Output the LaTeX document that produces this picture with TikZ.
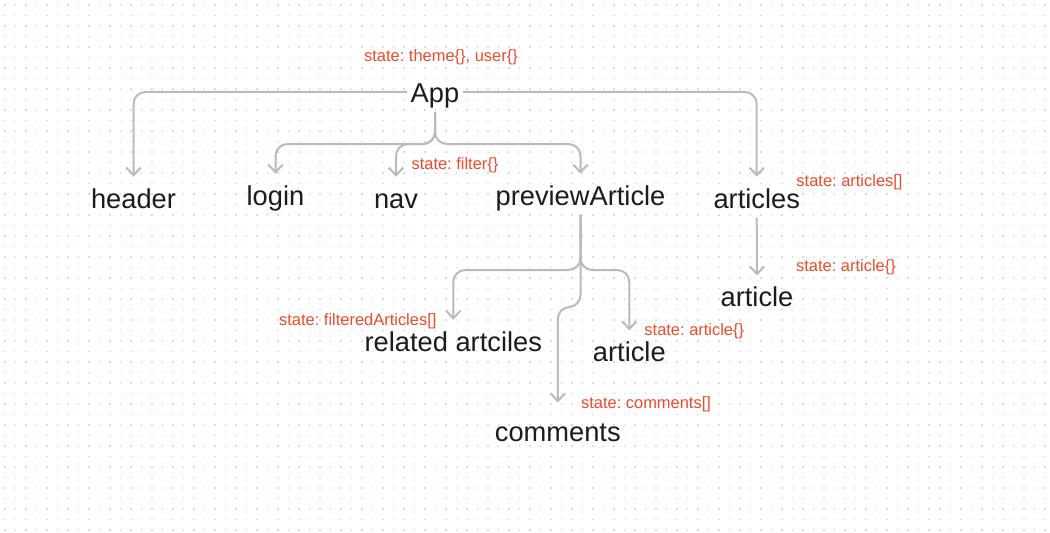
\documentclass[tikz,border=0pt]{standalone}
\usepackage{fontspec}
\setmainfont{Liberation Sans}
\usetikzlibrary{arrows.meta}
\frenchspacing

\definecolor{linkgray}{RGB}{186,186,186}
\definecolor{statered}{RGB}{234,76,44}
\definecolor{inkblack}{RGB}{28,28,28}
\definecolor{dotgray}{RGB}{218,218,218}

\tikzset{
  comp/.style={text=inkblack,anchor=base,inner xsep=1mm,inner ysep=0pt,
    text height=0.775cm,text depth=0.25cm,font=\fontsize{19.4pt}{23pt}\selectfont},
  statelbl/.style={text=statered,anchor=base,inner sep=0pt,
    font=\fontsize{11.7pt}{14pt}\selectfont},
  link/.style={draw=linkgray,line width=0.5mm,line cap=round,rounded corners=3mm,
    -{Straight Barb[length=1.9mm,width=3.6mm,line width=0.5mm]}},
  dotrow/.style={draw=dotgray,line width=0.375mm,dash pattern=on 0.375mm off 2.25mm}
}

\begin{document}
\begin{tikzpicture}[x=0.025cm,y=-0.025cm]

% background and dot grid
\fill[white] (0,0) rectangle (1050,532);
\useasboundingbox (0,0) rectangle (1050,532);
\foreach \y in {5,15.5,...,530}
  \draw[dotrow] (4.25,\y) -- (1050,\y);

% components
\path (435,102.5) node[comp] (app) {App};
\path (133.5,208) node[comp] (header) {header};
\path (275.5,205) node[comp] (login) {login};
\path (396,208) node[comp] (nav) {nav};
\path (580.5,205) node[comp] (preview) {previewArticle};
\path (756.7,208) node[comp] (articles) {articles};
\path (757,306.7) node[comp] (artitem) {article};
\path (453.3,351) node[comp] (related) {related artciles};
\path (629.3,361.7) node[comp] (article) {article};
\path (557.8,441.7) node[comp] (comments) {comments};

% state labels
\path (441,61.7) node[statelbl] (appstate) {state: theme\{\}, user\{\}};
\path (455,169.5) node[statelbl] (navstate) {state: filter\{\}};
\path (849.5,186.7) node[statelbl] (articlesstate) {state: articles[]};
\path (846,271.7) node[statelbl] (artitemstate) {state: article\{\}};
\path (357.8,325) node[statelbl] (relatedstate) {state: filteredArticles[]};
\path (694.3,335) node[statelbl] (articlestate) {state: article\{\}};
\path (646,408) node[statelbl] (commentsstate) {state: comments[]};

% branch points
\coordinate (appfork) at (435,144);
\coordinate (prevfork) at (580.5,270);
\coordinate (prevjog) at (580.5,307);

% connectors
\draw[link] (app.west) -| (header.north);
\draw[link] (app.east) -| (articles.north);
\draw[link] (app.south) -- (appfork) -| (login.north);
\draw[link] (app.south) -- (appfork) -| (nav.north);
\draw[link] (app.south) -- (appfork) -| (preview.north);
\draw[link] (articles.south) -- (artitem.north);
\draw[link] (preview.south) -- (prevfork) -| (related.north);
\draw[link] (preview.south) -- (prevfork) -| (article.north);
\draw[link,shorten >=2mm] (preview.south) -- (prevjog) -| (comments.north);

\end{tikzpicture}
\end{document}
